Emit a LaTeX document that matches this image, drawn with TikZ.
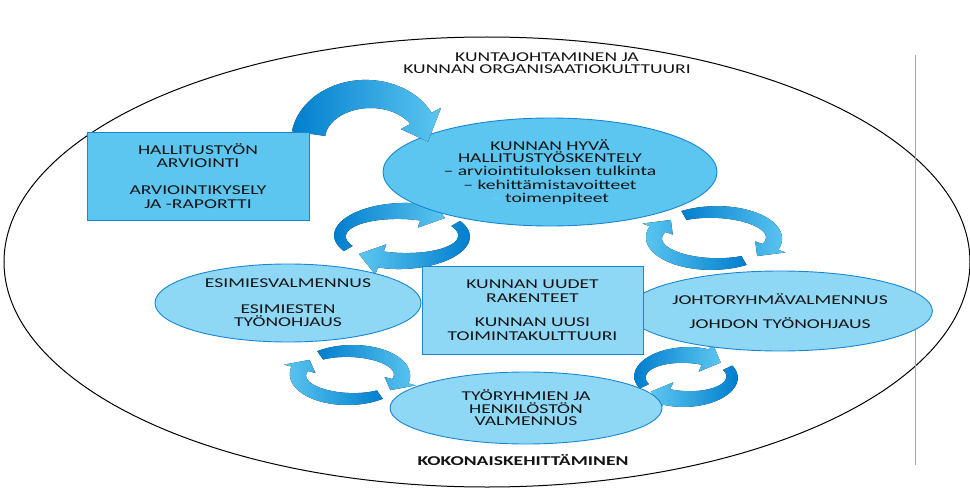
\documentclass[tikz,border=0pt]{standalone}
\usepackage{fontspec}
\setmainfont{Carlito}[FakeStretch=1.45]
\usetikzlibrary{shapes.geometric}

\definecolor{arrowdark}{RGB}{0,126,206}
\definecolor{arrowlight}{RGB}{92,198,240}
\definecolor{fillmid}{RGB}{92,198,240}
\definecolor{fillpale}{RGB}{142,216,246}
\definecolor{rimblue}{RGB}{24,134,212}
\definecolor{inktext}{RGB}{20,20,20}
\definecolor{railgray}{RGB}{165,165,165}
\definecolor{faintdash}{RGB}{120,205,240}

% Curved arrow running along an ellipse.
% #1,#2 centre, #3,#4 radii of the mid line, #5 tail angle, #6 angle of the head base,
% #7 angle of the tip, #8 half width at the head base, #9 fill options.
% \arrowtaper scales the half width at the tail.
\def\arrowtaper{0.6}
\newcommand\ringarrow[9]{%
  \fill[#9]
    plot[domain=#5:#6, samples=40, variable=\t]
      ({#1+(#3+#8*(\arrowtaper+(1-\arrowtaper)*(\t-(#5))/((#6)-(#5))))*cos(\t)},
       {#2+(#4+#8*(\arrowtaper+(1-\arrowtaper)*(\t-(#5))/((#6)-(#5))))*sin(\t)})
    -- ({#1+(#3+1.9*#8)*cos(#6)}, {#2+(#4+1.9*#8)*sin(#6)})
    -- ({#1+#3*cos(#7)}, {#2+#4*sin(#7)})
    -- ({#1+(#3-1.9*#8)*cos(#6)}, {#2+(#4-1.9*#8)*sin(#6)})
    -- plot[domain=#6:#5, samples=40, variable=\t]
      ({#1+(#3-#8*(\arrowtaper+(1-\arrowtaper)*(\t-(#5))/((#6)-(#5))))*cos(\t)},
       {#2+(#4-#8*(\arrowtaper+(1-\arrowtaper)*(\t-(#5))/((#6)-(#5))))*sin(\t)})
    -- cycle;}

\begin{document}
\begin{tikzpicture}[x=1pt, y=-1pt,
  every node/.style={text=inktext, font=\fontsize{13.5}{13.5}\selectfont, align=center, inner sep=0pt},
  boxnode/.style={rectangle, draw=rimblue, line width=0.9pt},
  ovalnode/.style={ellipse, draw=rimblue, line width=0.9pt},
  taildark/.style={left color=arrowdark, right color=arrowlight},
  tailright/.style={left color=arrowlight, right color=arrowdark}]

\useasboundingbox (0,0) rectangle (970,495);

% outer frame
\draw[black, line width=1pt] (487,262) ellipse[x radius=483, y radius=225];
\coordinate (railtop) at (915,55);
\coordinate (railbottom) at (915,465);
\draw[railgray, line width=1pt] (railtop) -- (railbottom);

% pairs of circular arrows
\ringarrow{402}{236}{62}{25}{150}{290}{314}{8.5}{taildark}
\ringarrow{402}{236}{62}{25}{330}{470}{494}{8.5}{tailright}
\ringarrow{714}{238}{60}{26}{240}{380}{404}{8.5}{taildark}
\ringarrow{714}{238}{60}{26}{60}{200}{224}{8.5}{tailright}
\ringarrow{350}{375}{52}{24}{235}{375}{399}{8.5}{taildark}
\ringarrow{350}{375}{52}{24}{55}{195}{219}{8.5}{tailright}
\ringarrow{686}{377}{46}{22}{155}{295}{319}{8.5}{taildark}
\ringarrow{686}{377}{46}{22}{335}{475}{499}{8.5}{tailright}

% shapes
\node[ovalnode, fill=fillmid, minimum width=334pt, minimum height=108pt] (goodwork) at (550,172)
  {KUNNAN HYVÄ\\[-1.5pt]HALLITUSTYÖSKENTELY\\– arviointituloksen tulkinta\\– kehittämistavoitteet\\{\color{faintdash}–} toimenpiteet};

\def\arrowtaper{1.4}
\ringarrow{368}{140}{60}{46}{188}{332}{362}{12}{taildark}

\node[boxnode, fill=fillmid, minimum width=222pt, minimum height=88pt] (assess) at (198,176)
  {HALLITUSTYÖN\\ARVIOINTI\\[13.5pt]ARVIOINTIKYSELY\\JA -RAPORTTI};

\node[ovalnode, fill=fillpale, minimum width=266pt, minimum height=78pt] (managers) at (288,303)
  {ESIMIESVALMENNUS\\[12pt]ESIMIESTEN\\TYÖNOHJAUS};
\node[ovalnode, fill=fillpale, minimum width=272pt, minimum height=80pt] (leaders) at (780,311)
  {JOHTORYHMÄVALMENNUS\\[11pt]JOHDON TYÖNOHJAUS};
\node[boxnode, fill=fillpale, minimum width=221pt, minimum height=88pt] (structures) at (532.5,310)
  {KUNNAN UUDET\\RAKENTEET\\[11pt]KUNNAN UUSI\\TOIMINTAKULTTUURI};
\node[ovalnode, fill=fillpale, minimum width=272pt, minimum height=72pt] (teams) at (526,408)
  {TYÖRYHMIEN JA\\[-1pt]HENKILÖSTÖN\\[-1pt]VALMENNUS};

% headings
\node (title) at (547,63) {KUNTAJOHTAMINEN JA\\[-1.5pt]KUNNAN ORGANISAATIOKULTTUURI};
\node[font=\fontsize{13.5}{13.5}\selectfont\bfseries] (whole) at (523,460) {KOKONAISKEHITTÄMINEN};

\end{tikzpicture}
\end{document}
